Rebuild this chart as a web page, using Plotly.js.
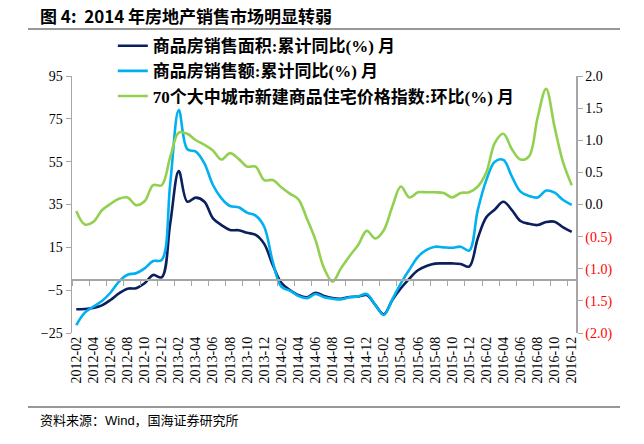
<!DOCTYPE html>
<html>
<head>
<meta charset="utf-8">
<script src="https://cdn.plot.ly/plotly-3.0.1.min.js"></script>
<style>
html,body{margin:0;padding:0;background:#fff;}
#chart{width:644px;height:444px;}
</style>
</head>
<body>
<div id="chart"></div>
<script>
var months = ["2012-02","2012-03","2012-04","2012-05","2012-06","2012-07","2012-08","2012-09","2012-10","2012-11","2012-12",
"2013-01","2013-02","2013-03","2013-04","2013-05","2013-06","2013-07","2013-08","2013-09","2013-10","2013-11","2013-12",
"2014-01","2014-02","2014-03","2014-04","2014-05","2014-06","2014-07","2014-08","2014-09","2014-10","2014-11","2014-12",
"2015-01","2015-02","2015-03","2015-04","2015-05","2015-06","2015-07","2015-08","2015-09","2015-10","2015-11","2015-12",
"2016-01","2016-02","2016-03","2016-04","2016-05","2016-06","2016-07","2016-08","2016-09","2016-10","2016-11","2016-12"];

var tickLabels = ["2012-02","2012-04","2012-06","2012-08","2012-10","2012-12",
"2013-02","2013-04","2013-06","2013-08","2013-10","2013-12",
"2014-02","2014-04","2014-06","2014-08","2014-10","2014-12",
"2015-02","2015-04","2015-06","2015-08","2015-10","2015-12",
"2016-02","2016-04","2016-06","2016-08","2016-10","2016-12"];

var salesArea = [-13.9,-13.8,-13.3,-12.1,-9.6,-6.5,-4.3,-4.1,-1.8,2.1,1.0,
26.2,50.6,36.3,38.2,36.3,28.5,25.4,23.1,23.0,21.8,20.8,16.6,
6.8,-1.5,-4.9,-7.3,-8.3,-6.2,-7.7,-8.7,-9.0,-8.2,-8.0,-7.3,
-11.9,-16.3,-9.6,-4.1,0.4,4.3,6.3,7.4,7.5,7.5,7.2,6.0,
19.2,29.0,32.7,36.3,32.4,27.3,26.0,25.4,26.8,27.0,24.3,22.2];

var salesValue = [-21.3,-15.5,-12.7,-10.1,-6.2,-1.0,2.2,2.9,5.2,8.6,9.1,
44.9,79.1,60.8,59.7,54.2,44.1,37.9,34.3,33.7,31.2,29.8,24.6,
8.3,-3.4,-5.2,-7.7,-8.8,-6.8,-8.3,-9.0,-9.3,-8.3,-7.9,-6.8,
-11.9,-16.6,-9.3,-1.8,4.6,10.6,13.8,15.3,15.0,14.8,15.3,13.5,
32.4,46.4,55.0,55.8,48.0,41.0,39.0,38.3,41.5,40.5,37.1,34.8];

var priceMoM = [-0.10,-0.31,-0.27,-0.09,0.01,0.09,0.11,-0.01,0.05,0.30,0.30,
0.74,1.12,1.10,1.00,0.93,0.84,0.70,0.80,0.71,0.59,0.59,0.38,
0.38,0.27,0.17,0.08,-0.22,-0.55,-0.99,-1.20,-0.99,-0.80,-0.63,-0.41,
-0.53,-0.40,-0.03,0.28,0.11,0.19,0.19,0.19,0.18,0.11,0.18,0.19,
0.28,0.50,0.96,1.10,0.86,0.70,0.75,1.35,1.80,1.20,0.65,0.30];

var leftTicks = [-25,-5,15,35,55,75,95];
var rightTicks = [-2,-1.5,-1,-0.5,0,0.5,1,1.5,2];
var rightLabels = rightTicks.map(function(v){
  var s = Math.abs(v).toFixed(1);
  return v < 0 ? '<span style="color:#FF0000">(' + s + ')</span>' : s;
});
var names = ["商品房销售面积:累计同比(%) 月","商品房销售额:累计同比(%) 月","70个大中城市新建商品住宅价格指数:环比(%) 月"];

var n = months.length;
var boundaryTicks = [];
for (var k = 0; k < tickLabels.length; k++) boundaryTicks.push(months.indexOf(tickLabels[k]) - 0.5);

var serif = "Liberation Serif, Times New Roman, serif";
var legendFont = "Liberation Serif, Noto Sans CJK SC, serif";

var traces = [
  {x: months, y: salesArea, name: names[0], type: 'scatter', mode: 'lines',
   line: {color: '#0B1F5E', width: 2.6, shape: 'spline', smoothing: 1}, yaxis: 'y', xaxis: 'x'},
  {x: months, y: salesValue, name: names[1], type: 'scatter', mode: 'lines',
   line: {color: '#00B0F0', width: 2.6, shape: 'spline', smoothing: 1}, yaxis: 'y', xaxis: 'x'},
  {x: months, y: priceMoM, name: names[2], type: 'scatter', mode: 'lines',
   line: {color: '#92D050', width: 2.6, shape: 'spline', smoothing: 1}, yaxis: 'y2', xaxis: 'x'},
  {x: [boundaryTicks[0]], y: [null], xaxis: 'x2', yaxis: 'y', showlegend: false, hoverinfo: 'skip',
   type: 'scatter', mode: 'lines'}
];

var layout = {
  width: 644, height: 444,
  margin: {l: 72, r: 68, t: 76, b: 111},
  paper_bgcolor: '#fff', plot_bgcolor: 'rgba(0,0,0,0)',
  showlegend: true,
  title: {text: '<b>图 4:  2014 年房地产销售市场明显转弱</b>', xref: 'container', yref: 'container',
          x: 40/644, xanchor: 'left', y: 1 - 17.5/444, yanchor: 'middle',
          font: {family: 'Noto Sans CJK SC, sans-serif', size: 17, color: '#000'}},
  legend: {x: 0.081, xanchor: 'left', y: 1.186, yanchor: 'top', bgcolor: 'rgba(0,0,0,0)',
           font: {family: legendFont, size: 17, color: '#000', weight: 'bold'}, itemwidth: 30,
           tracegroupgap: 0},
  xaxis: {type: 'category', range: [-0.5, n - 0.5], tickvals: tickLabels, ticktext: tickLabels,
          tickangle: -90, ticks: '', showline: false, showgrid: false, zeroline: false,
          tickfont: {family: serif, size: 14, color: '#000'}, fixedrange: true},
  xaxis2: {type: 'linear', overlaying: 'x', anchor: 'free', position: 25/120, range: [-0.5, n - 0.5],
           tickmode: 'array', tickvals: boundaryTicks, ticks: 'outside', ticklen: 5, tickcolor: '#A6A6A6',
           tickwidth: 1, showticklabels: false, showline: true, linecolor: '#A6A6A6', linewidth: 1.5,
           showgrid: false, zeroline: false},
  yaxis: {range: [-25, 95], tickmode: 'array', tickvals: leftTicks, ticks: 'outside', ticklen: 5,
          tickcolor: '#A6A6A6', showline: true, linecolor: '#A6A6A6', linewidth: 1.5, showgrid: false,
          zeroline: false, tickfont: {family: serif, size: 14, color: '#000'}},
  yaxis2: {range: [-2, 2], overlaying: 'y', side: 'right', tickmode: 'array', tickvals: rightTicks,
           ticktext: rightLabels, ticks: 'outside', ticklen: 5, tickcolor: '#A6A6A6', showline: true,
           linecolor: '#A6A6A6', linewidth: 1.5, showgrid: false, zeroline: false,
           tickfont: {family: serif, size: 14, color: '#000'}},
  shapes: [
    {type: 'line', xref: 'paper', yref: 'paper', x0: (28-72)/504, x1: (620-72)/504,
     y0: 1 + (76-29)/257, y1: 1 + (76-29)/257, line: {color: '#333', width: 1.2}},
    {type: 'line', xref: 'paper', yref: 'paper', x0: (28-72)/504, x1: (620-72)/504,
     y0: (333-407)/257, y1: (333-407)/257, line: {color: '#333', width: 1.2}}
  ],
  annotations: [
    {text: '资料来源：Wind，国海证券研究所', xref: 'paper', yref: 'paper', x: (38-72)/504,
     y: (333-420)/257, xanchor: 'left', yanchor: 'middle', showarrow: false,
     font: {family: 'Liberation Sans, Noto Sans CJK SC, sans-serif', size: 13, color: '#000'}}
  ]
};

Plotly.newPlot('chart', traces, layout, {staticPlot: true, displayModeBar: false});
</script>
</body>
</html>
